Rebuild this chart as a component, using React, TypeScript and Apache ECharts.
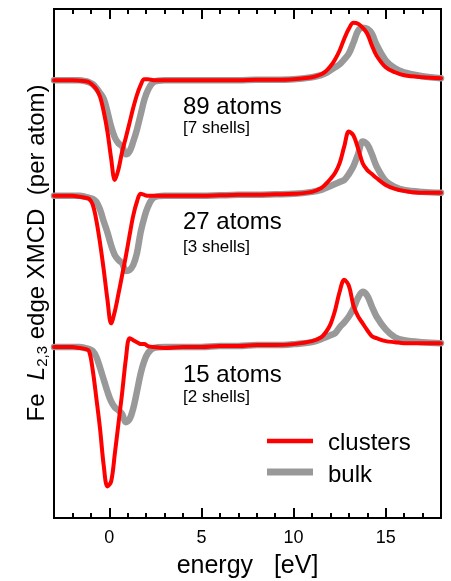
import React, { useEffect, useRef } from 'react';
import * as echarts from 'echarts';

// photon energy relative to the L3 edge (eV)
const energy = [-3, -2, -1.6, -1.3, -1.1, -0.9, -0.7, -0.5, -0.3, -0.1, 0.1, 0.3, 0.5, 0.7, 0.9, 1.1, 1.3, 1.5, 1.7, 1.9, 2.1, 2.4, 3, 4, 5, 6, 7, 8, 9, 10, 11, 11.5, 11.75, 12, 12.25, 12.5, 12.75, 13, 13.25, 13.5, 13.75, 14, 14.25, 14.5, 15, 15.5, 16, 17, 18];

// XMCD signal (arb. units, relative to each spectrum's baseline)
const clusters89 = [0, 0, -0.5, -1, -2, -5, -9, -17, -32, -52, -79, -101, -90, -72, -58, -43, -28, -15, -5, 1, 1, 0, 0, 0, 0, 0, 0, 0.5, 0.5, 1, 3, 6, 9, 14, 21, 30, 42, 52, 58, 57, 53, 47, 35, 25, 13, 8, 5, 3, 2];
const bulk89 = [0, 0, 0, -1, -2, -4, -8, -13, -19, -32, -47, -58, -64, -67, -75, -72, -62, -50, -35, -20, -10, -2, 0, 0, 0, 0, 0, 0.5, 0.5, 1, 3, 5, 7, 10, 13, 16, 21, 27, 38, 50, 53, 52, 47, 36, 20, 12, 8, 4, 2];
const clusters27 = [0, 0, -1, -2, -3, -9, -25, -48, -75, -105, -129, -117, -99, -80, -61, -40, -20, -6, 2, 1, 0, 0, 0, 0, 0, 0.5, 1, 1, 1.5, 2, 4, 8, 12, 17, 23, 33, 50, 65, 61, 48, 33, 26, 22, 18, 11, 7, 5, 3, 3];
const bulk27 = [0, 0, 0, -1, -2, -3, -6, -14, -26, -37, -50, -60, -65, -68, -76, -75, -70, -58, -37, -22, -11, -2, 0, 0, 0, 0.5, 1, 1, 1.5, 2, 4, 6, 8, 10, 12, 14, 16, 22, 30, 42, 55, 52, 42, 30, 15, 9, 6, 4, 3];
const clusters15 = [0, 0, -1, -2, -4, -23, -52, -83, -120, -141, -136, -108, -77, -46, -12, 9, 7, 5, 3, 3, 1, 0, -1, 0, 0, 1, 1, 2, 2, 3, 6, 10, 15, 23, 37, 56, 68, 62, 42, 31, 24, 17, 11, 9, 6, 5, 4, 4, 4];
const bulk15 = [0, 0, 0, -1, -2, -4, -10, -21, -33, -45, -55, -61, -64, -68, -76, -73, -62, -45, -27, -14, -6, -1, 0, 0, 0, 1, 1, 2, 2, 3, 5, 8, 10, 12, 14, 20, 25, 31, 39, 50, 56, 52, 41, 31, 18, 10, 7, 5, 4];

// vertical offsets of the stacked spectra
const offset89 = 443;
const offset27 = 326;
const offset15 = 173;

const xMajorTicks = [0, 5, 10, 15];
const panelLabels = ['89 atoms', '27 atoms', '15 atoms'];
const shellLabels = ['[7 shells]', '[3 shells]', '[2 shells]'];
const legendNames = ['clusters', 'bulk'];

function pairs(vals: number[], off: number) {
  return energy.map((e, i) => [e, vals[i] + off]);
}

export default function App() {
  const ref = useRef<HTMLDivElement>(null);
  useEffect(() => {
    const chart = echarts.init(ref.current!, null, { renderer: 'svg' });
    const font = '"Liberation Sans", Arial, Helvetica, sans-serif';
    const red = '#ff0000';
    const gray = '#999999';
    const mk = (name: string, data: number[][], color: string, width: number, z: number) => ({
      type: 'line',
      name,
      data,
      showSymbol: false,
      symbol: 'none',
      smooth: 0.35,
      silent: true,
      z,
      lineStyle: { color, width, cap: 'round', join: 'round' },
    });
    const tickStyle = { color: '#000', width: 2 };
    const baseX = { type: 'value', min: -3, max: 18, splitLine: { show: false } };
    const txt = (text: string, x: number, y: number, size: number) => ({
      type: 'text', x, y,
      style: { text, fontSize: size, fontFamily: font, fill: '#000', align: 'left', verticalAlign: 'middle' },
    });
    chart.setOption({
      animation: false,
      grid: { left: 54, right: 10, top: 9, bottom: 57, show: true, borderColor: '#000', borderWidth: 2, backgroundColor: 'transparent' },
      xAxis: [
        {
          ...baseX,
          position: 'bottom',
          axisLine: { show: true, onZero: false, lineStyle: { color: '#000', width: 2 } },
          axisTick: { show: true, inside: true, length: 10, lineStyle: tickStyle, customValues: xMajorTicks },
          axisLabel: { show: true, customValues: xMajorTicks, fontSize: 18, color: '#000', fontFamily: font, margin: 10 },
          name: 'energy   [eV]',
          nameLocation: 'middle',
          nameGap: 30,
          nameTextStyle: { fontSize: 25, color: '#000', fontFamily: font },
        },
        {
          ...baseX,
          position: 'bottom',
          interval: 1,
          axisLine: { show: false, onZero: false },
          axisTick: { show: true, inside: true, length: 5, lineStyle: tickStyle },
          axisLabel: { show: false },
        },
        {
          ...baseX,
          position: 'top',
          axisLine: { show: false, onZero: false },
          axisTick: { show: true, inside: true, length: 10, lineStyle: tickStyle, customValues: xMajorTicks },
          axisLabel: { show: false },
        },
        {
          ...baseX,
          position: 'top',
          interval: 1,
          axisLine: { show: false, onZero: false },
          axisTick: { show: true, inside: true, length: 5, lineStyle: tickStyle },
          axisLabel: { show: false },
        },
      ],
      yAxis: { type: 'value', min: 0, max: 515, show: false, splitLine: { show: false } },
      series: [
        mk('bulk 89', pairs(bulk89, offset89), gray, 6.5, 2),
        mk('bulk 27', pairs(bulk27, offset27), gray, 6.5, 2),
        mk('bulk 15', pairs(bulk15, offset15), gray, 6.5, 2),
        mk('clusters 89', pairs(clusters89, offset89), red, 4, 3),
        mk('clusters 27', pairs(clusters27, offset27), red, 4, 3),
        mk('clusters 15', pairs(clusters15, offset15), red, 4, 3),
      ],
      graphic: [
        txt(panelLabels[0], 183, 105, 24),
        txt(shellLabels[0], 183, 127.5, 17),
        txt(panelLabels[1], 183, 220, 24),
        txt(shellLabels[1], 183, 246, 17),
        txt(panelLabels[2], 183, 373, 24),
        txt(shellLabels[2], 183, 396.5, 17),
        { type: 'line', shape: { x1: 267, y1: 441, x2: 313, y2: 441 }, style: { stroke: red, lineWidth: 4.5 } },
        { type: 'line', shape: { x1: 267, y1: 472, x2: 313, y2: 472 }, style: { stroke: gray, lineWidth: 7 } },
        txt(legendNames[0], 328, 441, 24),
        txt(legendNames[1], 328, 473, 24),
        {
          type: 'text',
          x: 35,
          y: 253,
          rotation: Math.PI / 2,
          style: {
            text: '{n|Fe  }{i|L}{s|2,3}{n| edge XMCD  (per atom)}',
            align: 'center',
            verticalAlign: 'middle',
            fill: '#000',
            rich: {
              n: { fontSize: 24, fontFamily: font, fill: '#000' },
              i: { fontSize: 24, fontFamily: font, fontStyle: 'italic', fill: '#000' },
              s: { fontSize: 15, fontFamily: font, fill: '#000', padding: [12, 0, 0, 0] },
            },
          },
        },
      ],
    });
    return () => chart.dispose();
  }, []);
  return <div ref={ref} style={{ position: 'fixed', left: 0, top: 0, width: 451, height: 581 }} />;
}
